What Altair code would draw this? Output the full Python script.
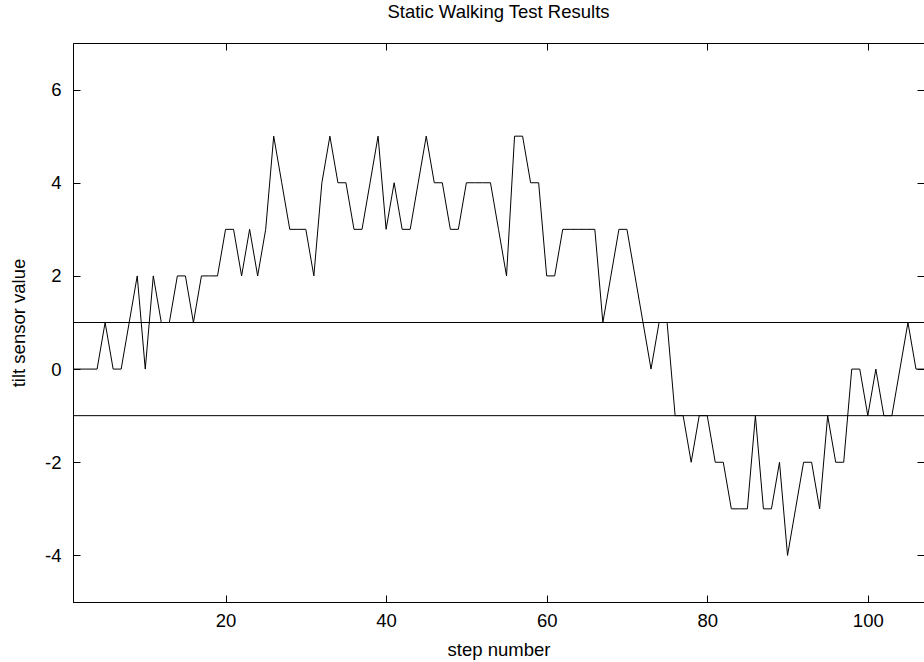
import altair as alt
import pandas as pd

steps = list(range(1, 108))
tilt = [0, 0, 0, 0, 1, 0, 0, 1, 2, 0,
        2, 1, 1, 2, 2, 1, 2, 2, 2, 3,
        3, 2, 3, 2, 3, 5, 4, 3, 3, 3,
        2, 4, 5, 4, 4, 3, 3, 4, 5, 3,
        4, 3, 3, 4, 5, 4, 4, 3, 3, 4,
        4, 4, 4, 3, 2, 5, 5, 4, 4, 2,
        2, 3, 3, 3, 3, 3, 1, 2, 3, 3,
        2, 1, 0, 1, 1, -1, -1, -2, -1, -1,
        -2, -2, -3, -3, -3, -1, -3, -3, -2, -4,
        -3, -2, -2, -3, -1, -2, -2, 0, 0, -1,
        0, -1, -1, 0, 1, 0, 0]
thresholds = [1, -1]
x_ticks = [20, 40, 60, 80, 100]
y_ticks = [-4, -2, 0, 2, 4, 6]

df = pd.DataFrame({"step": steps, "tilt": tilt})
thr_df = pd.DataFrame({"level": thresholds})
xt_df = pd.DataFrame({"v": x_ticks})

W, H = 851, 559
FONT = "Liberation Sans"
FS = 18.5

xs = alt.Scale(domain=[1, 107], nice=False, zero=False)
ys = alt.Scale(domain=[-5, 7], nice=False, zero=False)

def tick_axis(orient, offset, values):
    return alt.Axis(orient=orient, offset=offset, values=values, labels=False,
                    domain=True, domainColor="black", domainWidth=1,
                    grid=False, ticks=True, tickSize=7,
                    tickColor="black", tickWidth=1, title=None)

x_main = alt.Axis(orient="bottom", values=x_ticks, ticks=False, domain=True,
                  domainColor="black", domainWidth=1,
                  grid=False, labelFont=FONT, labelFontSize=FS, labelColor="black",
                  labelPadding=9, labelExpr="'' + datum.value",
                  title="step number", titleFont=FONT,
                  titleFontSize=FS, titleFontWeight="normal", titleColor="black",
                  titlePadding=11)
y_main = alt.Axis(orient="left", values=y_ticks, ticks=False, domain=True,
                  domainColor="black", domainWidth=1,
                  grid=False, labelFont=FONT, labelFontSize=FS, labelColor="black",
                  labelPadding=12, labelExpr="'' + datum.value",
                  title="tilt sensor value", titleFont=FONT,
                  titleFontSize=FS, titleFontWeight="normal", titleColor="black",
                  titlePadding=16)

line = alt.Chart(df).mark_line(color="black", strokeWidth=1).encode(
    x=alt.X("step:Q", scale=xs, axis=x_main),
    y=alt.Y("tilt:Q", scale=ys, axis=y_main),
)

rules = alt.Chart(thr_df).mark_rule(color="black", strokeWidth=1).encode(
    y=alt.Y("level:Q", scale=ys, axis=tick_axis("right", -W, y_ticks)),
)

ghost1 = alt.Chart(df).mark_point(opacity=0).encode(
    x=alt.X("step:Q", scale=xs, axis=tick_axis("top", -H, x_ticks)),
    y=alt.Y("tilt:Q", scale=ys, axis=tick_axis("left", -W, y_ticks)),
)

ghost2 = alt.Chart(xt_df).mark_point(opacity=0).encode(
    x=alt.X("v:Q", scale=xs, axis=tick_axis("bottom", -H, x_ticks)),
)

chart = alt.layer(line, rules, ghost1, ghost2).resolve_axis(
    x="independent", y="independent"
).properties(
    width=W, height=H,
    autosize=alt.AutoSizeParams(type="none"),
    padding={"left": 73, "top": 43, "right": 0, "bottom": 60},
    title=alt.TitleParams("Static Walking Test Results", font=FONT, fontSize=FS,
                          fontWeight="normal", color="black", anchor="middle",
                          offset=21),
).configure_view(stroke=None).configure(background="white")

chart.save("out.html", embed_options={"renderer": "svg", "actions": False})
